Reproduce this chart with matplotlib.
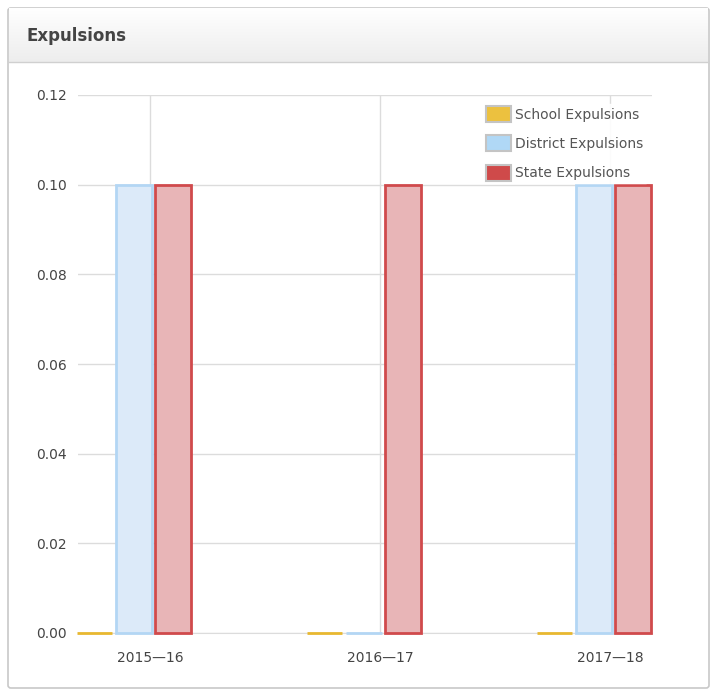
import numpy as np
import matplotlib.pyplot as plt
from matplotlib.patches import FancyBboxPatch, Patch

years = ["2015\u201416", "2016\u201417", "2017\u201418"]
school = [0.0, 0.0, 0.0]
district = [0.1, 0.0, 0.1]
state = [0.1, 0.1, 0.1]

fig = plt.figure(figsize=(7.15, 6.9), dpi=100)

# panel frame and header strip
panel = FancyBboxPatch((8 / 715, 2 / 690), 701 / 715, 680 / 690,
                       boxstyle="round,pad=0,rounding_size=0.004",
                       transform=fig.transFigure, facecolor="white",
                       edgecolor="#c8c8c8", linewidth=1.2, zorder=-10)
fig.patches.append(panel)
grad = np.linspace(1.0, 0.93, 64).reshape(-1, 1)
hax = fig.add_axes([9 / 715, 1 - 62 / 690, 699 / 715, 54 / 690], zorder=1)
hax.imshow(np.dstack([grad, grad, grad]), aspect="auto", extent=[0, 1, 0, 1])
hax.axis("off")
fig.add_artist(plt.Line2D([9 / 715, 708 / 715], [1 - 62 / 690] * 2,
                          transform=fig.transFigure, color="#d0d0d0", lw=1))
fig.text(27 / 715, 1 - 36 / 690, "Expulsions", fontsize=12, fontweight="bold",
         color="#444444", va="center", ha="left")

ax = fig.add_axes([78 / 715, 1 - 633 / 690, 574 / 715, 538 / 690], zorder=2)
ax.set_facecolor("none")
x = np.arange(len(years))
w = 0.155
ax.bar(x - 0.241, school, w, color="#f0c040", edgecolor="#e8b830",
       linewidth=2, clip_on=False, zorder=3)
ax.bar(x - 0.07, district, w, color="#dceaf9", edgecolor="#b3d6f4",
       linewidth=2, clip_on=False, zorder=3)
ax.bar(x + 0.10, state, w, color="#e8b5b7", edgecolor="#d04a4c",
       linewidth=2, clip_on=False, zorder=3)

ax.set_xlim(-0.313, 2.183)
ax.set_ylim(0, 0.12)
ax.set_yticks(np.arange(0, 0.121, 0.02))
ax.set_yticklabels([f"{v:.2f}" for v in np.arange(0, 0.121, 0.02)])
ax.set_xticks(x)
ax.set_xticklabels(years)
ax.tick_params(length=0, labelsize=10, colors="#444444")
ax.tick_params(axis="x", pad=13)
ax.tick_params(axis="y", pad=8)
ax.grid(True, color="#dcdcdc", linewidth=1)
ax.set_axisbelow(True)
for s in ["top", "right", "left"]:
    ax.spines[s].set_visible(False)
ax.spines["bottom"].set_color("#dcdcdc")

handles = [Patch(facecolor="#ecc13f", edgecolor="#c4c4c4", linewidth=1.5, label="School Expulsions"),
           Patch(facecolor="#b0d8f6", edgecolor="#c4c4c4", linewidth=1.5, label="District Expulsions"),
           Patch(facecolor="#cf4a4a", edgecolor="#c4c4c4", linewidth=1.5, label="State Expulsions")]
leg = ax.legend(handles=handles, loc="upper left",
                bbox_to_anchor=((484 - 78) / 574, (633 - 104) / 538),
                frameon=True, fontsize=10, labelcolor="#555555",
                handlelength=1.8, handleheight=1.4, handletextpad=0.3,
                labelspacing=0.95, borderpad=0.15, borderaxespad=0,
                fancybox=False)
leg.get_frame().set_edgecolor("white")
leg.get_frame().set_alpha(0.9)
leg.set_zorder(5)

fig.savefig("out.png", dpi=100)
